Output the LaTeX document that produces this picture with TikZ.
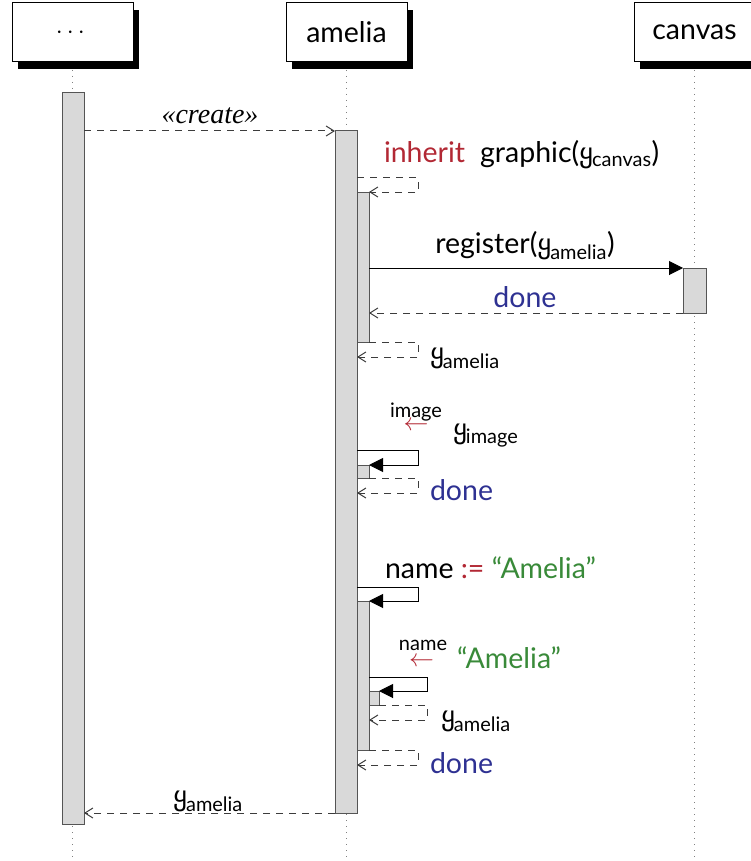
\documentclass[tikz,border=0pt]{standalone}
\usepackage{amsmath}
\usepackage{amssymb}
\usepackage{fontspec}
\setmainfont{Lato}
\newfontfamily\serifit{Liberation Serif}
\newfontfamily\yglyphfont{DejaVu Sans}
\usetikzlibrary{arrows.meta,shadows}

\definecolor{mred}{RGB}{178,40,52}
\definecolor{mblue}{RGB}{46,49,146}
\definecolor{mgreen}{RGB}{57,138,57}
\definecolor{barfill}{RGB}{217,217,217}
\definecolor{barline}{RGB}{85,85,85}
\definecolor{retline}{RGB}{60,60,60}

\newcommand\lblsize{\fontsize{28.5}{32}\selectfont}
\newcommand\smlsize{\fontsize{20}{24}\selectfont}
% curly y with a text subscript
\newcommand\yy[1]{{\yglyphfont\fontsize{27}{30}\selectfont ყ}\kern-1pt$_{\text{#1}}$}

\begin{document}
\begin{tikzpicture}[x=1pt,y=-1pt,
  every node/.style={font=\lblsize, inner sep=0pt, outer sep=0pt},
  head/.style={draw=black, line width=1pt, fill=white,
    minimum width=121pt, minimum height=59pt,
    general shadow={fill=black, shadow xshift=6pt, shadow yshift=-7pt}},
  life/.style={draw=gray, line width=0.8pt, dash pattern=on 1pt off 5pt},
  bar/.style={draw=barline, line width=1pt, fill=barfill},
  ret/.style={draw=retline, line width=1pt, dash pattern=on 7pt off 6pt,
    -{Straight Barb[length=8pt,width=10pt]}},
  call/.style={draw=black, line width=1pt, -{Triangle[length=14pt,width=14pt]}}
]
\useasboundingbox (0,0) rectangle (750,861);

% lifeline heads
\node[head] (h1) at (72.5,32.5) {\fontsize{36}{36}\selectfont$\cdots$};
\node[head] (h2) at (346.5,32.5) {amelia};
\node[head] (h3) at (694.5,32.5) {canvas};

% lifelines
\draw[life] (h1.south |- 0,70) -- (h1.south |- 0,861);
\draw[life] (h2.south |- 0,70) -- (h2.south |- 0,861);
\draw[life] (h3.south |- 0,70) -- (h3.south |- 0,861);

% activations
\node[bar, minimum width=22pt, minimum height=731pt] (db) at (73,458.5) {};
\node[bar, minimum width=22pt, minimum height=682pt] (ab) at (346,472) {};
\node[bar, minimum width=12pt, minimum height=150pt] (nb1) at (363,267) {};
\node[bar, minimum width=23pt, minimum height=45pt] (cb) at (694.5,290.5) {};
\node[bar, minimum width=12pt, minimum height=13pt] (sb1) at (363,471.5) {};
\node[bar, minimum width=12pt, minimum height=149pt] (nb2) at (363,675.5) {};
\node[bar, minimum width=10pt, minimum height=14pt] (sb2) at (374,698) {};

% messages
\draw[ret] (db.east |- ab.north) -- (ab.north west);
\draw[ret] (ab.east |- 0,178) -- ++(61,0) |- (nb1.north east);
\draw[call] (nb1.east |- cb.north) -- (cb.north west);
\draw[ret] (cb.south west) -- (nb1.east |- cb.south);
\draw[ret] (nb1.south east) -- ++(49,0) |- (ab.east |- 0,357);
\draw[call] (ab.east |- 0,450) -- ++(61,0) |- (sb1.north east);
\draw[ret] (sb1.south east) -- ++(49,0) |- (ab.east |- 0,493);
\draw[call] (ab.east |- 0,587) -- ++(61,0) |- (nb2.north east);
\draw[call] (nb2.east |- 0,677) -- ++(58,0) |- (sb2.north east);
\draw[ret] (sb2.south east) -- ++(48,0) |- (nb2.east |- 0,720);
\draw[ret] (nb2.south east) -- ++(49,0) |- (ab.east |- 0,765);
\draw[ret] (ab.west |- 0,813) -- (db.east |- 0,813);

% labels
\node[anchor=base, font=\serifit\itshape\fontsize{28}{30}\selectfont] (lcreate) at (210,124) {«create»};
\node[anchor=base west] (linh) at (384,163) {\textcolor{mred}{inherit}\hspace{15pt}graphic(\yy{canvas})};
\node[anchor=base] (lreg) at (525,253) {register(\yy{amelia})};
\node[anchor=base, text=mblue] (ldone1) at (525,307) {done};
\node[anchor=base west] (lret1) at (430,362) {\yy{amelia}};
\node[anchor=base, font=\smlsize] (limg) at (416,417) {image};
\node[text=mred] (limgarr) at (416,426) {$\leftarrow$};
\node[anchor=base west] (limgy) at (453,438) {\yy{image}};
\node[anchor=base west, text=mblue] (ldone2) at (430,500) {done};
\node[anchor=base west] (lname) at (385,578) {name \textcolor{mred}{:=} \textcolor{mgreen}{“Amelia”}};
\node[anchor=base, font=\smlsize] (lnm) at (423,650) {name};
\node[text=mred] (lnmarr) at (421.5,662) {$\leftarrow$};
\node[anchor=base west, text=mgreen] (lam) at (457,668) {“Amelia”};
\node[anchor=base west] (lret2) at (441,725) {\yy{amelia}};
\node[anchor=base west, text=mblue] (ldone3) at (430,773) {done};
\node[anchor=base] (lret3) at (208,805) {\yy{amelia}};
\end{tikzpicture}
\end{document}
